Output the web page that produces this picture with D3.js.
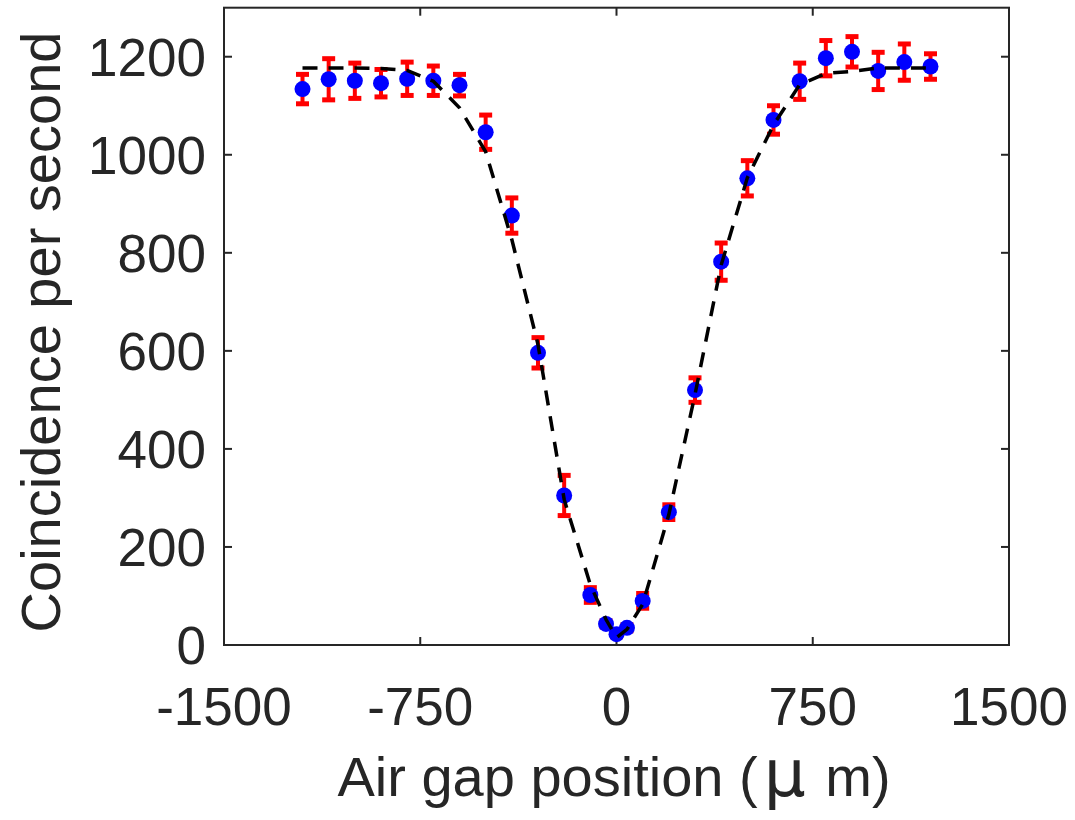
<!DOCTYPE html>
<html><head><meta charset="utf-8">
<script src="https://cdn.jsdelivr.net/npm/d3@7"></script>
<style>body{margin:0;background:#fff}svg{display:block}</style>
</head><body>
<script>
const positions = [-1200,-1100,-1000,-900,-800,-700,-600,-500,-400,-300,-200,-100,-40,0,40,100,200,300,400,500,600,700,800,900,1000,1100,1200];
const counts    = [1134,1154,1151,1146,1155,1151,1142,1046,876,596,305,102,43,22,35,90,271,520,782,952,1071,1150,1197,1210,1171,1189,1180];
const errors    = [30,42,36,28,34,30,22,35,36,31,41,15,6,5,6,15,15,25,38,36,29,37,36,31,38,37,26];
const fitX      = [-1200,-1100,-1000,-900,-800,-700,-600,-500,-400,-300,-200,-100,-40,0,40,100,200,300,400,500,600,700,800,900,1000,1100,1200];
const fitY      = [1177,1177,1177,1176,1172,1150,1096,1006,827,613,297,123,52,15,32,83,266,511,775,953,1061,1143,1166,1170,1177,1177,1177];
const xTicks = [-1500,-750,0,750,1500];
const yTicks = [0,200,400,600,800,1000,1200];

const W=1075,H=820;
const L=224,R=1009,T=7.7,B=645;
const txt="#262626";
const font="'Liberation Sans', Arial, Helvetica, sans-serif";
const svg=d3.select("body").append("svg").attr("width",W).attr("height",H);
const x=d3.scaleLinear().domain([-1500,1500]).range([L,R]);
const y=d3.scaleLinear().domain([0,1300]).range([B,T]);

// axes
const tl=8;
const ax=svg.append("g").attr("stroke",txt).attr("stroke-width",2).attr("fill","none");
ax.append("rect").attr("x",L).attr("y",T).attr("width",R-L).attr("height",B-T);
yTicks.forEach(v=>{
  ax.append("line").attr("x1",L).attr("x2",L+tl).attr("y1",y(v)).attr("y2",y(v));
  ax.append("line").attr("x1",R).attr("x2",R-tl).attr("y1",y(v)).attr("y2",y(v));
});
xTicks.forEach(v=>{
  ax.append("line").attr("x1",x(v)).attr("x2",x(v)).attr("y1",B).attr("y2",B-tl);
  ax.append("line").attr("x1",x(v)).attr("x2",x(v)).attr("y1",T).attr("y2",T+tl);
});
const tg=svg.append("g").attr("fill",txt).attr("font-family",font).attr("font-size",53);
yTicks.forEach(v=>{
  tg.append("text").attr("x",L-18).attr("y",y(v)).attr("dy","0.36em").attr("text-anchor","end").text(v);
});
xTicks.forEach(v=>{
  tg.append("text").attr("x",x(v)).attr("y",725).attr("text-anchor","middle").text(v);
});
const xl=tg.append("text").attr("x",614).attr("y",796).attr("text-anchor","middle").attr("font-size",56);
xl.append("tspan").text("Air gap position (");
xl.append("tspan").attr("dx",6).attr("font-size",66).attr("font-family","'DejaVu Sans', sans-serif").text("μ");
xl.append("tspan").attr("dx",4).text(" m)");
tg.append("text").attr("transform","translate(60,332) rotate(-90)").attr("text-anchor","middle").attr("font-size",56).text("Coincidence per second");

// error bars
const data=positions.map((p,i)=>({p,c:counts[i],e:errors[i]}));
const eg=svg.append("g").attr("stroke","#ff0000").attr("stroke-width",4);
data.forEach(d=>{
  eg.append("line").attr("x1",x(d.p)).attr("x2",x(d.p)).attr("y1",y(d.c-d.e)).attr("y2",y(d.c+d.e));
  eg.append("line").attr("x1",x(d.p)-6.5).attr("x2",x(d.p)+6.5).attr("y1",y(d.c-d.e)).attr("y2",y(d.c-d.e)).attr("stroke-width",5);
  eg.append("line").attr("x1",x(d.p)-6.5).attr("x2",x(d.p)+6.5).attr("y1",y(d.c+d.e)).attr("y2",y(d.c+d.e)).attr("stroke-width",5);
});
// markers
svg.append("g").selectAll("circle").data(data).join("circle")
  .attr("cx",d=>x(d.p)).attr("cy",d=>y(d.c)).attr("r",8).attr("fill","#0000ff");
// fit line
const line=d3.line().x(d=>x(d[0])).y(d=>y(d[1]));
svg.append("path").attr("d",line(fitX.map((v,i)=>[v,fitY[i]])))
  .attr("fill","none").attr("stroke","#000").attr("stroke-width",3.5).attr("stroke-dasharray","15,11");
</script>
</body></html>
